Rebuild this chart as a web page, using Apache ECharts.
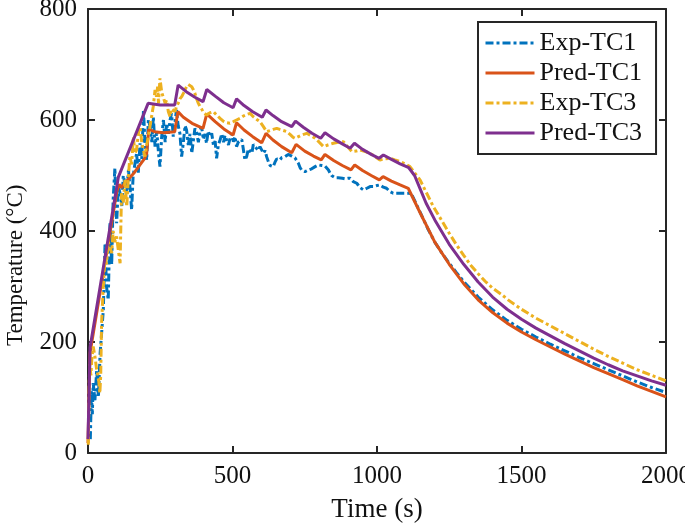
<!DOCTYPE html>
<html>
<head>
<meta charset="utf-8">
<script src="https://cdn.jsdelivr.net/npm/echarts@6/dist/echarts.min.js"></script>
<style>
html,body{margin:0;padding:0;background:#fff;}
#chart{width:685px;height:524px;}
</style>
</head>
<body>
<div id="chart"></div>
<script>
// ---- Data ----
var seriesNames = ['Exp-TC1', 'Pred-TC1', 'Exp-TC3', 'Pred-TC3'];
var xTicks = [0, 500, 1000, 1500, 2000];
var yTicks = [0, 200, 400, 600, 800];

var expTC1_t = [8,12,15,18,24,30,36,42,47,53,59,64,70,76,82,87,93,99,105,111,117,122,128,134,140,145,151,156,162,168,174,180,186,192,197,203,209,215,221,226,232,238,244,249,255,261,267,272,278,284,289,295,301,306,312,318,324,330,336,341,347,353,359,365,370,376,382,388,393,399,405,410,416,422,428,434,440,445,451,457,463,469,474,480,486,491,497,503,509,514,520,526,532,537,543,549,555,561,567,572,578,584,590,595,601,607,613,618,624,630,635,641,647,653,658,664,670,676,682,688,693,699,705,711,716,722,728,734,739,745,751,757,763,768,774,780,786,792,797,803,809,815,820,826,832,838,843,849,855,861,866,872,880,890,900,907,913,918,924,930,936,942,947,953,959,965,970,976,982,988,994,1000,1010,1016,1022,1027,1033,1039,1045,1050,1056,1068,1080,1090,1100,1110,1119,1130,1150,1175,1200,1225,1250,1275,1300,1350,1400,1450,1500,1550,1600,1650,1700,1750,1800,1850,1900,1950,2000];
var expTC1_T = [25,113,70,126,95,150,101,180,215,258,378,300,276,414,340,456,513,414,480,468,445,500,498,470,510,480,438,498,520,540,505,558,530,618,560,528,600,588,560,605,552,580,540,516,570,600,560,594,575,600,612,570,595,618,590,576,534,560,590,582,555,575,540,565,585,576,560,582,588,565,575,558,580,570,576,555,562,531,555,564,575,560,572,570,555,566,575,561,570,552,560,558,565,549,528,534,548,549,540,556,552,555,545,552,552,540,545,534,525,518,516,516,524,530,529,528,532,535,534,537,538,537,535,534,532,531,522,514,510,508,507,508,510,510,512,514,516,518,519,519,518,520,517,516,510,504,500,498,496,495,496,495,495,494,495,495,492,489,487,486,482,478,476,474,475,477,478,480,480,480,481,482,483,481,479,477,477,474,471,469,468,468,468,468,468,468,467,455,433,405,380,360,342,325,309,281,258,239,223,209,196,184,172,161,150,139,128,118,109];

var predTC1_t = [0,7,100,108,116,130,160,195,203,210,230,260,300,311,330,360,398,411,440,470,502,514,540,570,601,616,640,670,705,720,750,780,807,820,850,880,910,923,950,980,1008,1021,1050,1080,1108,1114,1150,1200,1250,1300,1350,1400,1450,1500,1550,1600,1650,1700,1750,1800,1850,1900,1950,2000];
var predTC1_T = [18,180,472,484,478,488,505,530,540,583,579,577,579,615,605,594,585,611,597,584,573,595,582,570,559,576,564,552,541,556,544,535,528,538,527,518,510,519,509,500,492,498,490,483,477,474,432,380,340,305,276,253,234,218,204,191,178,166,154,143,132,121,111,101];

var expTC3_t = [1,3,6,10,13,18,24,30,36,41,44,47,53,59,64,70,76,82,87,93,99,105,111,116,122,128,134,140,145,151,157,162,168,174,180,186,192,197,203,209,215,220,226,232,237,241,244,249,255,261,267,272,278,284,289,295,301,306,312,318,324,330,336,341,347,353,359,365,370,376,382,388,393,399,405,410,422,434,445,457,468,480,491,503,514,526,537,549,561,572,584,595,607,618,630,641,653,664,676,688,699,709,716,728,740,757,770,786,800,815,830,849,865,884,898,913,928,942,960,976,993,1010,1027,1045,1062,1080,1097,1114,1130,1149,1170,1195,1225,1250,1275,1300,1325,1350,1375,1400,1430,1456,1500,1550,1600,1650,1700,1750,1800,1850,1900,1950,2000];
var expTC3_T = [15,100,160,140,168,192,174,150,137,108,140,234,300,354,340,380,372,360,400,380,390,365,342,468,450,492,444,500,534,520,570,540,546,575,588,560,545,534,555,570,590,606,625,654,642,660,630,675,650,648,630,636,615,606,620,618,615,624,630,638,642,648,655,660,664,666,660,654,648,638,630,624,620,614,611,609,613,615,609,603,598,595,594,597,600,603,607,610,612,606,601,597,588,579,581,583,585,583,581,579,574,569,567,570,573,576,572,567,560,552,555,558,560,561,552,543,544,546,543,540,534,528,530,531,528,525,521,516,505,492,470,444,418,396,375,356,338,323,309,297,286,275,259,243,229,215,201,187,174,162,150,140,130];

var predTC3_t = [0,7,105,208,250,300,312,340,370,398,411,440,470,502,514,540,570,603,616,640,670,705,718,745,775,805,820,850,880,907,922,950,980,1007,1022,1050,1080,1110,1130,1150,1170,1200,1250,1300,1350,1400,1450,1500,1550,1600,1650,1700,1750,1800,1850,1900,1950,2000];
var predTC3_T = [25,190,497,630,627,627,663,651,641,633,655,643,631,622,638,626,615,605,618,608,597,588,598,587,576,567,577,566,557,549,558,547,538,531,537,529,521,514,500,475,450,420,376,340,308,281,259,241,225,211,197,184,171,159,148,139,130,122];

// ---- Build ----
function pairs(t, v) { return t.map(function (x, i) { return [x, v[i]]; }); }
var colors = ['#0072BD', '#D95319', '#EDB120', '#7E2F8E'];
var dashDot = [8, 3, 3, 3];
var dataSets = [pairs(expTC1_t, expTC1_T), pairs(predTC1_t, predTC1_T), pairs(expTC3_t, expTC3_T), pairs(predTC3_t, predTC3_T)];
var styles = [dashDot, 'solid', dashDot, 'solid'];

var FONT = '"Liberation Serif", "DejaVu Serif", serif';
var AX = '#262626';
var TXT = '#111';

function xAx(pos, showLabel) {
  return {
    type: 'value', position: pos, min: xTicks[0], max: xTicks[xTicks.length - 1], interval: xTicks[1] - xTicks[0],
    axisLine: { show: true, onZero: false, lineStyle: { color: AX, width: 2 } },
    axisTick: { show: true, inside: true, length: 7, lineStyle: { color: AX, width: 2 } },
    axisLabel: { show: showLabel, margin: 11, fontFamily: FONT, fontSize: 25, color: TXT,
      formatter: function (v) { return String(v); } },
    splitLine: { show: false },
    name: showLabel ? 'Time (s)' : '',
    nameLocation: 'middle', nameGap: 43,
    nameTextStyle: { fontFamily: FONT, fontSize: 27, color: TXT }
  };
}
function yAx(pos, showLabel) {
  return {
    type: 'value', position: pos, min: yTicks[0], max: yTicks[yTicks.length - 1], interval: yTicks[1] - yTicks[0],
    axisLine: { show: true, onZero: false, lineStyle: { color: AX, width: 2 } },
    axisTick: { show: true, inside: true, length: 7, lineStyle: { color: AX, width: 2 } },
    axisLabel: { show: showLabel, margin: 11, fontFamily: FONT, fontSize: 25, color: TXT,
      formatter: function (v) { return String(v); } },
    splitLine: { show: false }
  };
}

var chart = echarts.init(document.getElementById('chart'), null, { renderer: 'canvas' });
chart.setOption({
  animation: false,
  backgroundColor: '#fff',
  grid: { left: 88, right: 19, top: 9, bottom: 71, containLabel: false, outerBoundsMode: 'none' },
  xAxis: [xAx('bottom', true), xAx('top', false)],
  yAxis: [yAx('left', true), yAx('right', false)],
  legend: {
    orient: 'vertical', left: 478, top: 22,
    padding: [8, 14, 8, 6], itemGap: 4, itemWidth: 49, itemHeight: 2,
    borderColor: AX, borderWidth: 2, backgroundColor: '#fff',
    itemStyle: { opacity: 0 },
    lineStyle: { opacity: 1, width: 3 },
    textStyle: { fontFamily: FONT, fontSize: 26, color: TXT },
    data: seriesNames
  },
  graphic: [{
    type: 'text', z: 10,
    x: 4, y: 346,
    rotation: Math.PI / 2,
    style: { text: 'Temperature (°C)', font: '23px ' + FONT, fill: TXT, textAlign: 'left', textVerticalAlign: 'top' }
  }],
  series: seriesNames.map(function (n, i) {
    return {
      name: n, type: 'line', data: dataSets[i], xAxisIndex: 0, yAxisIndex: 0,
      symbol: 'none', showSymbol: false, smooth: false,
      lineStyle: { color: colors[i], width: 3, type: styles[i] },
      itemStyle: { color: colors[i] }
    };
  })
});
</script>
</body>
</html>
